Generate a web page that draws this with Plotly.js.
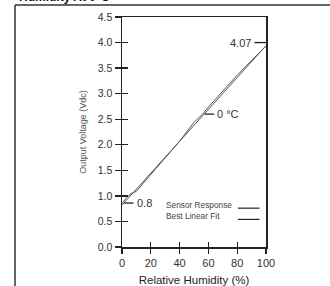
<!DOCTYPE html>
<html>
<head>
<meta charset="utf-8">
<script src="https://cdn.plot.ly/plotly-3.0.1.min.js"></script>
<style>html,body{margin:0;padding:0;background:#fff;}#chart{width:330px;height:286px;}</style>
</head>
<body>
<div id="chart"></div>
<script>
// Data
const humidity = [0, 3, 6, 10, 20, 30, 40, 50, 56, 60, 70, 72, 80, 90, 100];
const sensorResponse = [0.85, 0.96, 1.04, 1.09, 1.42, 1.74, 2.07, 2.44, 2.60, 2.74, 3.06, 3.12, 3.36, 3.65, 3.93];
const fitX = [0, 100];
const fitY = [0.82, 3.94];
const xTicks = [0, 20, 40, 60, 80, 100];
const xTickLabels = ['0', '20', '40', '60', '80', '100'];
const yTicks = [0, 0.5, 1, 1.5, 2, 2.5, 3, 3.5, 4, 4.5];
const yTickLabels = ['0.0', '0.5', '1.0', '1.5', '2.0', '2.5', '3.0', '3.5', '4.0', '4.5'];
const legendNames = ['Sensor Response', 'Best Linear Fit'];
const titleText = 'Humidity At 0°C';
const xTitle = 'Relative Humidity (%)';
const yTitle = 'Output Voltage (Vdc)';
const callouts = [
  {x: 100, y: 4.0, text: '4.07', side: 'left'},
  {x: 56, y: 2.6, text: '0 °C', side: 'right'},
  {x: 0, y: 0.86, text: '0.8', side: 'right'}
];

const FONT = 'Liberation Sans, Arial, sans-serif';
const lineColor = '#555';

const traces = [
  {x: humidity, y: sensorResponse, type: 'scatter', mode: 'lines', name: legendNames[0],
   line: {color: lineColor, width: 1}, showlegend: false, hoverinfo: 'skip'},
  {x: fitX, y: fitY, type: 'scatter', mode: 'lines', name: legendNames[1],
   line: {color: lineColor, width: 1}, showlegend: false, hoverinfo: 'skip'},
  {x: [0], y: [0], xaxis: 'x2', yaxis: 'y2', mode: 'markers', marker: {opacity: 0},
   showlegend: false, hoverinfo: 'skip'}
];

const shapes = [];
const annotations = [];

// frame around the figure
shapes.push({type: 'line', xref: 'paper', yref: 'paper', x0: -0.743, x1: 1.5, y0: 1.052, y1: 1.052,
  line: {color: '#333', width: 1.5}});
shapes.push({type: 'line', xref: 'paper', yref: 'paper', x0: -0.743, x1: -0.743, y0: 1.052, y1: -0.2,
  line: {color: '#333', width: 1.5}});

// title at top (cut by the top edge, as in the reference)
annotations.push({xref: 'paper', yref: 'paper', x: -0.73, y: 1.046, xanchor: 'left', yanchor: 'bottom',
  text: '<b>' + titleText + '</b>', showarrow: false, font: {family: FONT, size: 12, color: '#111'}});

// callouts
callouts.forEach(c => {
  const dx = 8; // in data units of x
  if (c.side === 'left') {
    shapes.push({type: 'line', x0: c.x - dx, x1: c.x, y0: c.y, y1: c.y, line: {color: '#222', width: 1.3}});
    annotations.push({x: c.x - dx, y: c.y, xanchor: 'right', yanchor: 'middle', text: c.text, showarrow: false,
      xshift: -1, font: {family: FONT, size: 11, color: '#333'}});
  } else {
    shapes.push({type: 'line', x0: c.x + 1.5, x1: c.x + 8, y0: c.y, y1: c.y, line: {color: '#222', width: 1.3}});
    annotations.push({x: c.x + 8, y: c.y, xanchor: 'left', yanchor: 'middle', text: c.text, showarrow: false,
      xshift: 1, font: {family: FONT, size: 11, color: '#333'}});
  }
});

// legend (text left, sample line right)
const legY = [0.82, 0.6];
legendNames.forEach((n, i) => {
  annotations.push({x: 29.5, y: legY[i], xanchor: 'left', yanchor: 'middle', text: n, showarrow: false,
    font: {family: FONT, size: 8.3, color: '#444'}});
  shapes.push({type: 'line', x0: 80.5, x1: 95.5, y0: legY[i] - 0.06, y1: legY[i] - 0.06,
    line: {color: '#222', width: 1.2}});
});

const layout = {
  width: 330, height: 286,
  margin: {l: 122, r: 64, t: 17, b: 39, pad: 0},
  paper_bgcolor: '#fff', plot_bgcolor: '#fff',
  showlegend: false,
  font: {family: FONT, color: '#333'},
  xaxis: {range: [0, 100], tickvals: xTicks, ticktext: xTickLabels, ticks: 'outside', ticklen: 5,
    tickwidth: 1.3, tickcolor: '#222', showline: true, linecolor: '#222', linewidth: 1.5, mirror: true,
    showgrid: false, zeroline: false, tickfont: {family: FONT, size: 11, color: '#333'},
    title: {text: xTitle, font: {family: FONT, size: 11.5, color: '#222'}, standoff: 8}, fixedrange: true},
  yaxis: {range: [0, 4.5], tickvals: yTicks, ticktext: yTickLabels, ticks: 'outside', ticklen: 6,
    tickwidth: 1.3, tickcolor: '#222', showline: true, linecolor: '#222', linewidth: 1.5, mirror: true,
    showgrid: false, zeroline: false, tickfont: {family: FONT, size: 10.5, color: '#333'},
    title: {text: yTitle, font: {family: FONT, size: 9, color: '#555'}, standoff: 9}, fixedrange: true},
  xaxis2: {overlaying: 'x', anchor: 'y2', side: 'bottom', range: [0, 100], tickvals: xTicks, ticks: 'inside',
    ticklen: 5, tickwidth: 1.3, tickcolor: '#222', showticklabels: false, showline: false, showgrid: false,
    zeroline: false},
  yaxis2: {overlaying: 'y', anchor: 'x2', side: 'left', range: [0, 4.5], tickvals: yTicks, ticks: 'inside',
    ticklen: 6, tickwidth: 1.3, tickcolor: '#222', showticklabels: false, showline: false, showgrid: false,
    zeroline: false},
  shapes: shapes,
  annotations: annotations
};

Plotly.newPlot('chart', traces, layout, {staticPlot: true, displayModeBar: false});
</script>
</body>
</html>
